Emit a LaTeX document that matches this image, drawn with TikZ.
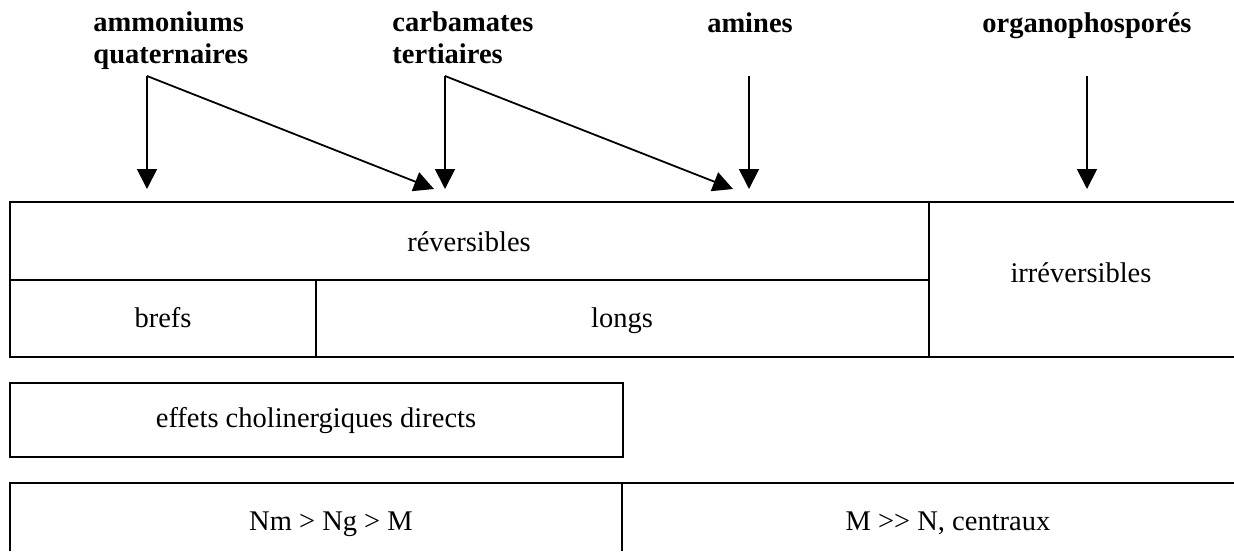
\documentclass[tikz,border=0pt]{standalone}
\usepackage{fontspec}
\setmainfont{Liberation Serif}
\usetikzlibrary{arrows.meta}
\begin{document}
\begin{tikzpicture}[x=0.421pt,y=-0.421pt,
  lbl/.style={font=\fontsize{12}{13.1}\selectfont\bfseries, inner sep=0pt, align=left},
  cell/.style={font=\fontsize{12}{14}\selectfont, inner sep=0pt, anchor=base},
  gridline/.style={line width=1.1pt},
  arr/.style={line width=0.75pt, -{Triangle[length=8.4pt,width=8.4pt]}}]
\useasboundingbox (0,0) rectangle (1234,551);
% top labels
\node[lbl, anchor=base west] (amm) at (93,63) {ammoniums\\quaternaires};
\node[lbl, anchor=base west] (carb) at (392,63) {carbamates\\tertiaires};
\node[lbl, anchor=base] (amin) at (750,32) {amines};
\node[lbl, anchor=base] (org) at (1087,32) {organophosporés};
% arrow points
\coordinate (s1) at (147,76);
\coordinate (e1a) at (147,189);
\coordinate (e1b) at (434,189);
\coordinate (s2) at (445,76);
\coordinate (e2a) at (445,189);
\coordinate (e2b) at (733,189);
\coordinate (s3) at (749,76);
\coordinate (e3) at (749,189);
\coordinate (s4) at (1087,76);
\coordinate (e4) at (1087,189);
\draw[arr] (s1) -- (e1a);
\draw[arr] (s1) -- (e1b);
\draw[arr] (s2) -- (e2a);
\draw[arr] (s2) -- (e2b);
\draw[arr] (s3) -- (e3);
\draw[arr] (s4) -- (e4);
% first table
\draw[gridline] (1234,202) -- (10,202) -- (10,357) -- (1234,357);
\draw[gridline] (10,280) -- (929,280);
\draw[gridline] (929,202) -- (929,357);
\draw[gridline] (316,280) -- (316,357);
\node[cell] (rev) at (469,251) {réversibles};
\node[cell] (irrev) at (1081,282) {irréversibles};
\node[cell] (brefs) at (163,327) {brefs};
\node[cell] (longs) at (622,327) {longs};
% effets box
\draw[gridline] (10,383) rectangle (623,457);
\node[cell] (eff) at (316,427) {effets cholinergiques directs};
% bottom table
\draw[gridline] (10,551) -- (10,483) -- (1234,483);
\draw[gridline] (622,483) -- (622,551);
\node[cell] (nm) at (331,530) {Nm > Ng > M};
\node[cell] (mm) at (948,530) {M >{}> N, centraux};
\end{tikzpicture}
\end{document}
